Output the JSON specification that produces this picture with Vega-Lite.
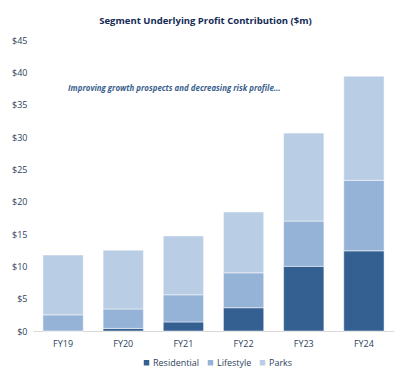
{
  "$schema": "https://vega.github.io/schema/vega-lite/v6.json",
  "autosize": {"type": "none"},
  "width": 361,
  "height": 291,
  "padding": {"left": 33, "top": 40, "right": 2, "bottom": 48},
  "background": "white",
  "config": {
    "view": {"stroke": null},
    "font": "Open Sans",
    "axisX": {"labelAngle": 0, "labelFontSize": 9, "labelColor": "#2e3f5c", "labelPadding": 8, "ticks": false, "domainColor": "#d9d9d9", "domainWidth": 1, "grid": false, "title": null},
    "axisY": {"labelFontSize": 9, "labelColor": "#2e3f5c", "labelPadding": 6, "labelOverlap": false, "labelBound": false, "labelFlush": false, "ticks": false, "domain": false, "grid": false, "title": null}
  },
  "title": {
    "text": "Segment Underlying Profit Contribution ($m)",
    "fontSize": 9.5,
    "fontWeight": "bold",
    "color": "#132a55",
    "font": "Open Sans",
    "anchor": "middle",
    "dx": -8,
    "offset": 11
  },
  "data": {
    "values": [
      {"year": "FY19", "segment": "Residential", "ord": 1, "value": 0},
      {"year": "FY19", "segment": "Lifestyle", "ord": 2, "value": 2.5},
      {"year": "FY19", "segment": "Parks", "ord": 3, "value": 9.25},
      {"year": "FY20", "segment": "Residential", "ord": 1, "value": 0.4},
      {"year": "FY20", "segment": "Lifestyle", "ord": 2, "value": 3.0},
      {"year": "FY20", "segment": "Parks", "ord": 3, "value": 9.1},
      {"year": "FY21", "segment": "Residential", "ord": 1, "value": 1.4},
      {"year": "FY21", "segment": "Lifestyle", "ord": 2, "value": 4.2},
      {"year": "FY21", "segment": "Parks", "ord": 3, "value": 9.1},
      {"year": "FY22", "segment": "Residential", "ord": 1, "value": 3.6},
      {"year": "FY22", "segment": "Lifestyle", "ord": 2, "value": 5.4},
      {"year": "FY22", "segment": "Parks", "ord": 3, "value": 9.4},
      {"year": "FY23", "segment": "Residential", "ord": 1, "value": 10.0},
      {"year": "FY23", "segment": "Lifestyle", "ord": 2, "value": 7.0},
      {"year": "FY23", "segment": "Parks", "ord": 3, "value": 13.6},
      {"year": "FY24", "segment": "Residential", "ord": 1, "value": 12.4},
      {"year": "FY24", "segment": "Lifestyle", "ord": 2, "value": 10.9},
      {"year": "FY24", "segment": "Parks", "ord": 3, "value": 16.1}
    ]
  },
  "layer": [
    {
      "mark": {"type": "bar", "stroke": "white", "strokeWidth": 0.5},
      "encoding": {
        "x": {
          "field": "year",
          "type": "nominal",
          "scale": {"paddingInner": 0.33, "paddingOuter": 0.165}
        },
        "y": {
          "field": "value",
          "type": "quantitative",
          "stack": "zero",
          "scale": {"domain": [0, 45]},
          "axis": {"values": [0, 5, 10, 15, 20, 25, 30, 35, 40, 45], "format": "$.0f"}
        },
        "color": {
          "field": "segment",
          "type": "nominal",
          "sort": ["Residential", "Lifestyle", "Parks"],
          "scale": {"domain": ["Residential", "Lifestyle", "Parks"], "range": ["#335f91", "#95b3d7", "#b9cde5"]},
          "legend": {
            "title": null,
            "orient": "none",
            "direction": "horizontal",
            "legendX": 109,
            "legendY": 318,
            "symbolType": "square",
            "symbolSize": 30,
            "symbolStrokeWidth": 0,
            "labelFontSize": 9,
            "labelColor": "#2e3f5c",
            "columnPadding": 6,
            "labelOffset": 2
          }
        },
        "order": {"field": "ord", "type": "quantitative"}
      }
    },
    {
      "data": {"values": [{"year": "FY19", "value": 37.5, "label": "Improving growth prospects and decreasing risk profile..."}]},
      "mark": {"type": "text", "align": "left", "baseline": "middle", "fontStyle": "italic", "fontWeight": "bold", "fontSize": 7.9, "color": "#3b5f8e", "dx": 5},
      "encoding": {
        "x": {"field": "year", "type": "nominal"},
        "y": {"field": "value", "type": "quantitative", "axis": {"values": [0, 5, 10, 15, 20, 25, 30, 35, 40, 45], "format": "$.0f"}},
        "text": {"field": "label"}
      }
    }
  ]
}
